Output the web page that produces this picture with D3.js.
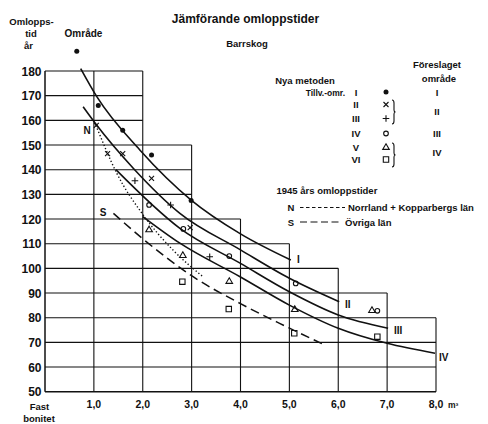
<!DOCTYPE html>
<html>
<head>
<meta charset="utf-8">
<script src="https://cdn.jsdelivr.net/npm/d3@7"></script>
<style>
   body { margin: 0; background: #fff; }
   svg text { font-family: "Liberation Sans", Arial, sans-serif; font-weight: bold; fill: #111; }
</style>
</head>
<body>
<div id="chart"></div>
<script>
// tick labels and grid steps
let xTicks = [1, 2, 3, 4, 5, 6, 7, 8];
let xTickLabels = ['1,0', '2,0', '3,0', '4,0', '5,0', '6,0', '7,0', '8,0'];
let yTicks = [50, 60, 70, 80, 90, 100, 110, 120, 130, 140, 150, 160, 170, 180];
// top of the grid in each column (0-1, 1-2, ... 7-8)
let columnTops = [180, 180, 150, 120, 110, 100, 90, 80];

// nya metoden, tillväxtområden I-VI (bonitet, omloppstid)
let pointsI = [[0.65, 188], [1.09, 166], [1.59, 156], [2.18, 146], [2.99, 127.5]];
let pointsII = [[1.05, 158], [1.28, 146.5], [1.59, 146.5], [2.18, 136.5], [2.97, 116.5]];
let pointsIII = [[1.84, 135.5], [2.57, 125.7], [3.37, 104.7]];
let pointsIV = [[2.13, 125.7], [2.83, 116], [3.77, 105], [5.13, 93.9], [6.80, 82.8]];
let pointsV = [[2.13, 115.8], [2.82, 105.4], [3.77, 94.9], [5.11, 83.5], [6.69, 83.1]];
let pointsVI = [[2.81, 94.6], [3.76, 83.5], [5.10, 73.7], [6.80, 72.3]];

// föreslaget område, kurvor I-IV
let curveI = [[0.73, 181], [1.06, 169.6], [1.94, 148], [2.99, 127.7], [4.0, 114], [5.03, 103.4]];
let curveII = [[0.78, 165.5], [1.04, 158.5], [1.81, 140.5], [2.76, 122.3], [4.0, 107.5], [5.0, 96], [6.02, 86.5]];
let curveIII = [[1.45, 140], [2.76, 116.2], [4.0, 102], [5.0, 90.5], [6.0, 81.1], [7.02, 75.7]];
let curveIV = [[2.0, 121], [2.76, 110.2], [4.0, 96.5], [5.0, 85.1], [6.0, 75.7], [7.0, 69.6], [7.98, 65.6]];

// 1945 års omloppstider
let curveN = [[1.04, 158], [1.47, 138.5], [2.01, 121.6], [2.62, 107.4], [3.24, 96.5]];
let curveS = [[1.40, 122.3], [2.0, 112], [3.03, 96.6], [3.99, 85.8], [4.8, 77.7], [5.73, 68.9]];

let width = 488, height = 424;
let x = d3.scaleLinear().domain([0, 8]).range([45, 436]);
let y = d3.scaleLinear().domain([50, 180]).range([391.7, 71]);

let svg = d3.select('#chart').append('svg')
   .attr('width', width)
   .attr('height', height);

// stepped grid
let grid = svg.append('g').attr('stroke', '#111').attr('fill', 'none');
for (let k = 0; k <= 8; k++) {
   let top = Math.max(k > 0 ? columnTops[k - 1] : 0, k < 8 ? columnTops[k] : 0);
   grid.append('line')
      .attr('x1', x(k)).attr('x2', x(k))
      .attr('y1', y(50)).attr('y2', y(top))
      .attr('stroke-width', k == 0 ? 1.5 : 1.1);
}
yTicks.forEach(v => {
   let last = 0;
   for (let c = 0; c < columnTops.length; c++) {
      if (columnTops[c] >= v) last = c + 1;
   }
   grid.append('line')
      .attr('x1', x(0)).attr('x2', x(last))
      .attr('y1', y(v)).attr('y2', y(v))
      .attr('stroke-width', v == 50 ? 1.5 : 1.1);
});

// axis labels
svg.append('g').selectAll('text')
   .data(yTicks)
   .enter().append('text')
   .attr('x', 41.5)
   .attr('y', d => y(d) + 4.5)
   .attr('text-anchor', 'end')
   .attr('font-size', 12)
   .text(d => d);
svg.append('g').selectAll('text')
   .data(xTicks)
   .enter().append('text')
   .attr('x', d => x(d))
   .attr('y', 408)
   .attr('text-anchor', 'middle')
   .attr('font-size', 10.5)
   .text((d, i) => xTickLabels[i]);
svg.append('text').attr('x', 448).attr('y', 408).attr('font-size', 8.5).text('m³');

function label(t, px, py, size, anchor) {
   svg.append('text')
      .attr('x', px).attr('y', py)
      .attr('font-size', size)
      .attr('text-anchor', anchor || 'middle')
      .text(t);
}
label('Omlopps-', 31.5, 25, 9.5);
label('tid', 31, 36.5, 9.5);
label('år', 28.5, 49, 9.5);
label('Område', 83.5, 36.5, 10);
label('Fast', 39.5, 410, 9.5);
label('bonitet', 39, 421.5, 9.5);
label('Jämförande omloppstider', 245.5, 23, 12);
label('Barrskog', 247, 47, 9.5);

// curves
let line = d3.line()
   .x(d => x(d[0]))
   .y(d => y(d[1]))
   .curve(d3.curveMonotoneX);
[curveI, curveII, curveIII, curveIV].forEach(c => {
   svg.append('path').attr('d', line(c))
      .attr('fill', 'none').attr('stroke', '#111').attr('stroke-width', 1.6);
});
svg.append('path').attr('d', line(curveN))
   .attr('fill', 'none').attr('stroke', '#111').attr('stroke-width', 1.4)
   .attr('stroke-dasharray', '1.3,2.2');
svg.append('path').attr('d', line(curveS))
   .attr('fill', 'none').attr('stroke', '#111').attr('stroke-width', 1.5)
   .attr('stroke-dasharray', '9,5');

// curve names
label('I', 297, 263, 10, 'start');
label('II', 345, 308, 10, 'start');
label('III', 394, 334, 10, 'start');
label('IV', 439, 361, 10, 'start');
label('N', 87, 134, 10);
label('S', 103, 216, 10);

// markers
function marker(type, cx, cy) {
   if (type == 'dot') {
      svg.append('circle').attr('cx', cx).attr('cy', cy).attr('r', 2.5).attr('fill', '#111');
      return;
   }
   let p = svg.append('path').attr('fill', 'none').attr('stroke', '#111').attr('stroke-width', 1.1);
   if (type == 'x') {
      p.attr('d', `M${cx - 2.5},${cy - 2.5}L${cx + 2.5},${cy + 2.5}M${cx - 2.5},${cy + 2.5}L${cx + 2.5},${cy - 2.5}`);
   } else if (type == 'plus') {
      p.attr('d', `M${cx - 3.3},${cy}H${cx + 3.3}M${cx},${cy - 3.3}V${cy + 3.3}`);
   } else if (type == 'circle') {
      p.attr('d', d3.symbol(d3.symbolCircle, 17)()).attr('transform', `translate(${cx},${cy})`);
   } else if (type == 'tri') {
      p.attr('d', `M${cx},${cy - 3.2}L${cx + 3.3},${cy + 2.4}L${cx - 3.3},${cy + 2.4}Z`);
   } else {
      p.attr('d', `M${cx - 2.7},${cy - 2.7}h5.4v5.4h-5.4Z`);
   }
}
let markerSeries = [
   {type: 'dot', data: pointsI},
   {type: 'x', data: pointsII},
   {type: 'plus', data: pointsIII},
   {type: 'circle', data: pointsIV},
   {type: 'tri', data: pointsV},
   {type: 'square', data: pointsVI}
];
markerSeries.forEach(s => {
   s.data.forEach(d => marker(s.type, x(d[0]), y(d[1])));
});

// legend
label('Föreslaget', 437, 68, 9.5);
label('område', 439, 82, 9.5);
label('Nya metoden', 305, 84, 9.5);
label('Tillv.-omr.', 345, 96, 8.5, 'end');
let legendRows = ['I', 'II', 'III', 'IV', 'V', 'VI'];
let legendY = [92, 104.5, 118.5, 133.5, 147, 159.5];
legendRows.forEach((r, i) => {
   label(r, 356, legendY[i] + 3.5, 9.5);
   marker(markerSeries[i].type, 386, legendY[i]);
});
label('I', 437, 95.5, 9.5);
label('II', 437, 115, 9.5);
label('III', 437, 137, 9.5);
label('IV', 437, 156, 9.5);
function brace(bx, y0, y1) {
   let m = (y0 + y1) / 2;
   svg.append('path')
      .attr('d', `M${bx - 2},${y0} q2,0 2,3 V${m - 2} q0,2 1.5,2 q-1.5,0 -1.5,2 V${y1 - 3} q0,3 -2,3`)
      .attr('fill', 'none').attr('stroke', '#111').attr('stroke-width', 1.1);
}
brace(394, 100, 124);
brace(394, 143, 167);

label('1945 års omloppstider', 276.5, 194, 9.5, 'start');
label('N', 291, 211, 9.5);
label('S', 291, 225.5, 9.5);
svg.append('line').attr('x1', 300).attr('x2', 345).attr('y1', 207.5).attr('y2', 207.5)
   .attr('stroke', '#111').attr('stroke-width', 1).attr('stroke-dasharray', '3.5,2.5');
svg.append('line').attr('x1', 300).attr('x2', 341).attr('y1', 222).attr('y2', 222)
   .attr('stroke', '#111').attr('stroke-width', 1.2).attr('stroke-dasharray', '7,3.5');
label('Norrland + Kopparbergs län', 348, 211, 9.5, 'start');
label('Övriga län', 345, 225.5, 9.5, 'start');
</script>
</body>
</html>
